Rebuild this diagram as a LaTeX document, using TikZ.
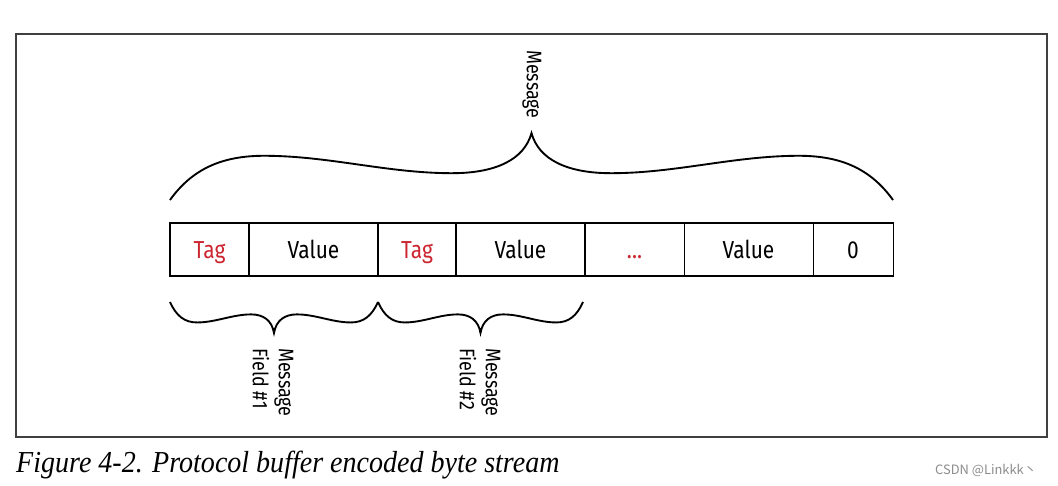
\documentclass[tikz,border=0pt]{standalone}
\usepackage{fontspec}
\usepackage{xcolor}
\usepackage{tikz}
\usetikzlibrary{positioning}

\setmainfont{Liberation Serif}
\newfontfamily\cellfont[FakeStretch=0.85]{Fira Sans}
\newfontfamily\captionfont[FakeStretch=0.92]{Liberation Serif}
\newfontfamily\cjkfont{Noto Sans CJK SC}
\definecolor{tagred}{RGB}{204,38,48}

\tikzset{
  cell/.style={draw, line width=0.9pt, outer sep=0pt, inner sep=0pt, minimum height=1.59cm,
    text height=17.5pt, text depth=2pt, font=\cellfont\fontsize{21}{25}\selectfont},
  brace/.style={line width=1.6pt},
  sidelabel/.style={rotate=-90, anchor=west, align=left, inner sep=0pt,
    font=\cellfont\fontsize{18}{22}\selectfont}
}

% wavy brace: left x, y, width, height
\newcommand{\wavybrace}[4]{%
  \draw[brace, shift={(#1,#2)}, xscale=#3, yscale=#4]
    (0,0) .. controls (0.03,0.45) and (0.07,0.66) .. (0.13,0.66)
    .. controls (0.22,0.66) and (0.30,0.40) .. (0.39,0.40)
    .. controls (0.45,0.40) and (0.49,0.60) .. (0.5,1)
    .. controls (0.51,0.60) and (0.55,0.40) .. (0.61,0.40)
    .. controls (0.70,0.40) and (0.78,0.66) .. (0.87,0.66)
    .. controls (0.93,0.66) and (0.97,0.45) .. (1,0);
}

\begin{document}
\begin{tikzpicture}[x=0.03cm, y=-0.03cm]
  \useasboundingbox (0,0) rectangle (1058,486);
  \draw[black!75, line width=0.9pt] (16,34) rectangle (1047,437);

  % byte stream
  \node[cell, anchor=west, minimum width=2.37cm, text=tagred] (tag1) at (170,249.5) {Tag};
  \node[cell, minimum width=3.87cm, right=0pt of tag1] (value1) {Value};
  \node[cell, minimum width=2.34cm, right=0pt of value1, text=tagred] (tag2) {Tag};
  \node[cell, minimum width=3.87cm, right=0pt of tag2] (value2) {Value};
  \node[cell, minimum width=2.97cm, right=0pt of value2, text=tagred] (dots) {...};
  \node[cell, minimum width=3.87cm, right=0pt of dots] (valuen) {Value};
  \node[cell, minimum width=2.40cm, right=0pt of valuen] (zero) {0};

  % braces
  \wavybrace{170}{200}{723}{-67}
  \wavybrace{170}{302}{208}{31}
  \wavybrace{378}{302}{205}{31}

  \node[sidelabel] (msg) at (532,50) {Message};
  \node[sidelabel] (field1) at (273,348) {Message\\Field \#1};
  \node[sidelabel] (field2) at (480,348) {Message\\Field \#2};

  % caption
  \node[anchor=base west, inner sep=0pt, font=\captionfont\itshape\fontsize{26}{30}\selectfont] (caption) at (16,472)
    {Figure 4-2. Protocol buffer encoded byte stream};
  \node[anchor=west, inner sep=0pt, text=black!45, font=\cjkfont\fontsize{11}{13}\selectfont] (mark) at (935,470)
    {CSDN @Linkkk丶};
\end{tikzpicture}
\end{document}
